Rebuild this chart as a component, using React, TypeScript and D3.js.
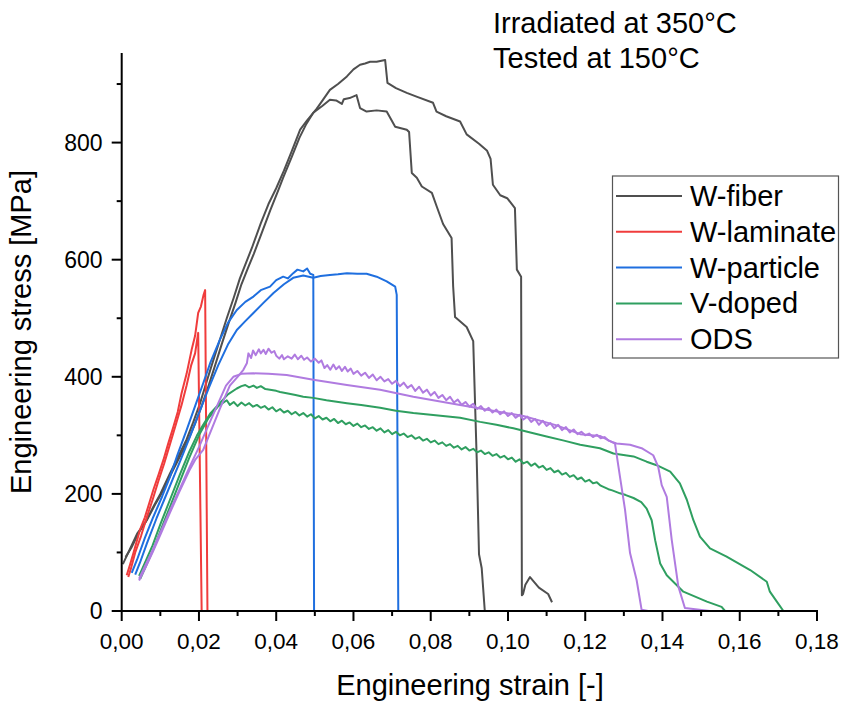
import React from 'react';
import * as d3 from 'd3';

type Pt = [number, number];

const seriesNames = ['W-fiber', 'W-laminate', 'W-particle', 'V-doped', 'ODS'];
const xMajorTicks = [0, 0.02, 0.04, 0.06, 0.08, 0.1, 0.12, 0.14, 0.16, 0.18];
const xMinorTicks = [0.01, 0.03, 0.05, 0.07, 0.09, 0.11, 0.13, 0.15, 0.17];
const yMajorTicks = [0, 200, 400, 600, 800];
const yMinorTicks = [100, 300, 500, 700, 900];
const annotationLines = ['Irradiated at 350°C', 'Tested at 150°C'];

const wFiberA: Pt[] = [
  [0.0003, 80], [0.002, 104], [0.004, 132], [0.006, 150], [0.0082, 178], [0.010, 200], [0.0125, 235], [0.0145, 262],
  [0.0168, 293], [0.0185, 322], [0.0203, 355], [0.022, 392], [0.0237, 428], [0.0255, 465], [0.0272, 500], [0.029, 535],
  [0.0306, 568], [0.0322, 595], [0.0337, 620], [0.036, 662], [0.038, 695], [0.040, 722], [0.042, 752], [0.044, 785],
  [0.0462, 822], [0.048, 838], [0.0505, 858], [0.052, 872], [0.0539, 890], [0.056, 900], [0.0583, 913], [0.060, 925],
  [0.0617, 933], [0.063, 935], [0.0643, 938], [0.066, 938], [0.0682, 941], [0.0688, 902], [0.071, 893], [0.0738, 885],
  [0.0765, 878], [0.0806, 868], [0.0815, 853], [0.084, 845], [0.0876, 836], [0.0893, 814], [0.0925, 798], [0.0946, 786],
  [0.0955, 772], [0.0961, 728], [0.098, 710], [0.0998, 705], [0.1018, 688], [0.1023, 583], [0.1034, 571], [0.1036, 27],
  [0.1039, 29], [0.1045, 45], [0.1057, 58], [0.108, 40], [0.1104, 29], [0.1114, 15],
];
const wFiberB: Pt[] = [
  [0.001, 92], [0.0025, 108], [0.0045, 135], [0.0065, 155], [0.0085, 180], [0.0105, 203], [0.013, 237], [0.015, 263],
  [0.0172, 292], [0.019, 320], [0.0207, 350], [0.0225, 385], [0.0242, 420], [0.026, 458], [0.0277, 492], [0.0295, 527],
  [0.031, 558], [0.0327, 586], [0.0342, 610], [0.0365, 650], [0.0385, 685], [0.0405, 718], [0.0418, 740], [0.044, 775],
  [0.046, 808], [0.0478, 832], [0.0496, 851], [0.052, 863], [0.0539, 873], [0.0555, 872], [0.057, 866], [0.0575, 874],
  [0.059, 876], [0.0608, 881], [0.0617, 859], [0.0634, 853], [0.066, 855], [0.0686, 853], [0.0708, 827], [0.0738, 822],
  [0.0744, 818], [0.0751, 748], [0.0764, 740], [0.0777, 725], [0.0803, 714], [0.0816, 690], [0.0832, 661], [0.0854, 637],
  [0.0858, 555], [0.0863, 502], [0.0893, 485], [0.091, 461], [0.0919, 261], [0.0925, 97], [0.0932, 73], [0.094, 0],
  [0.0955, 0],
];
const wLaminateA: Pt[] = [
  [0.0013, 61], [0.0022, 80], [0.003, 98], [0.0047, 138], [0.006, 160], [0.0082, 207], [0.0095, 232], [0.0108, 258],
  [0.012, 285], [0.0134, 315], [0.0145, 340], [0.0155, 372], [0.0168, 405], [0.0181, 446], [0.019, 470], [0.0198, 509],
  [0.0205, 520], [0.0212, 540], [0.0216, 548], [0.0222, 0],
];
const wLaminateB: Pt[] = [
  [0.0017, 58], [0.0025, 75], [0.0035, 100], [0.005, 128], [0.0065, 160], [0.008, 190], [0.0095, 222], [0.011, 252],
  [0.0125, 285], [0.014, 318], [0.0155, 352], [0.0168, 385], [0.018, 420], [0.019, 440], [0.0198, 475], [0.0207, 0],
];
const wParticleA: Pt[] = [
  [0.0026, 65], [0.004, 88], [0.006, 125], [0.0082, 161], [0.0105, 196], [0.0125, 229], [0.0145, 268], [0.0168, 309],
  [0.019, 350], [0.0211, 389], [0.023, 425], [0.0254, 463], [0.0275, 492], [0.0298, 514], [0.032, 528], [0.0341, 537],
  [0.036, 548], [0.0384, 554], [0.040, 565], [0.0418, 571], [0.043, 568], [0.0444, 577], [0.0455, 583], [0.047, 580],
  [0.048, 585], [0.0488, 576], [0.0496, 574], [0.0498, 0],
];
const wParticleB: Pt[] = [
  [0.0035, 62], [0.0047, 82], [0.0065, 115], [0.009, 158], [0.011, 190], [0.013, 222], [0.0155, 262], [0.0178, 300],
  [0.02, 338], [0.0225, 380], [0.025, 420], [0.0275, 455], [0.0298, 480], [0.032, 495], [0.0341, 509], [0.0365, 525],
  [0.0393, 543], [0.042, 558], [0.0444, 569], [0.047, 573], [0.0496, 569], [0.0515, 572], [0.0539, 574], [0.056, 575],
  [0.0583, 577], [0.061, 576], [0.0634, 576], [0.066, 571], [0.0686, 563], [0.0708, 554], [0.0712, 540], [0.0716, 0],
  [0.0803, 0],
];
const vDopedA: Pt[] = [
  [0.0045, 60], [0.006, 82], [0.008, 112], [0.010, 148], [0.0125, 190], [0.015, 232], [0.0175, 272], [0.0195, 300],
  [0.0211, 318], [0.023, 338], [0.0254, 355], [0.0275, 370], [0.0298, 380], [0.031, 384], [0.032, 386], [0.033, 382],
  [0.0341, 385], [0.035, 381], [0.036, 384], [0.0372, 379], [0.0384, 378], [0.040, 376], [0.041, 374], [0.0427, 372],
  [0.045, 369], [0.047, 366], [0.0496, 364], [0.053, 360], [0.0583, 355], [0.062, 352], [0.0669, 347], [0.071, 342],
  [0.0755, 338], [0.080, 335], [0.0876, 330], [0.0928, 323], [0.097, 318], [0.1014, 312], [0.105, 306], [0.11, 298],
  [0.1145, 291], [0.1187, 284], [0.1238, 278], [0.1273, 269], [0.1325, 264], [0.1359, 255], [0.1385, 249], [0.142, 238],
  [0.1445, 218], [0.1463, 190], [0.148, 155], [0.1497, 127], [0.1523, 107], [0.1566, 93], [0.1627, 70], [0.167, 50],
  [0.1678, 33], [0.1696, 16], [0.1713, 0], [0.1769, 0],
];
const vDopedB: Pt[] = [
  [0.0048, 55], [0.0065, 80], [0.0085, 110], [0.0105, 145], [0.0125, 178], [0.015, 220], [0.0175, 262], [0.02, 300],
  [0.0225, 330], [0.025, 350], [0.0272, 360], [0.028, 352], [0.029, 357], [0.030, 350], [0.031, 356], [0.032, 351],
  [0.033, 355], [0.034, 349], [0.035, 352], [0.036, 347], [0.037, 350], [0.038, 344], [0.039, 348], [0.040, 341],
  [0.041, 345], [0.042, 339], [0.043, 342], [0.044, 336], [0.045, 340], [0.046, 334], [0.047, 338], [0.048, 332],
  [0.049, 336], [0.050, 329], [0.051, 333], [0.052, 327], [0.053, 330], [0.054, 324], [0.055, 328], [0.056, 321],
  [0.057, 325], [0.058, 319], [0.059, 322], [0.060, 316], [0.061, 320], [0.062, 314], [0.063, 317], [0.064, 311],
  [0.065, 314], [0.066, 308], [0.067, 312], [0.068, 305], [0.069, 309], [0.070, 302], [0.071, 306], [0.072, 300],
  [0.073, 303], [0.074, 297], [0.075, 300], [0.076, 294], [0.077, 297], [0.078, 291], [0.079, 294], [0.080, 288],
  [0.081, 291], [0.082, 285], [0.083, 288], [0.084, 282], [0.085, 285], [0.086, 279], [0.087, 282], [0.088, 276],
  [0.089, 280], [0.090, 274], [0.091, 277], [0.092, 271], [0.093, 274], [0.094, 268], [0.095, 271], [0.096, 265],
  [0.097, 268], [0.098, 262], [0.099, 265], [0.100, 259], [0.101, 262], [0.102, 255], [0.103, 259], [0.104, 252],
  [0.105, 255], [0.106, 248], [0.107, 252], [0.108, 245], [0.109, 248], [0.110, 241], [0.111, 244], [0.112, 237],
  [0.113, 240], [0.114, 233], [0.115, 236], [0.116, 229], [0.117, 232], [0.118, 225], [0.119, 228], [0.120, 221],
  [0.121, 224], [0.122, 218], [0.123, 220], [0.124, 214], [0.126, 208], [0.127, 206], [0.129, 201], [0.1305, 198],
  [0.1325, 193], [0.1345, 186], [0.1359, 175], [0.1372, 155], [0.1381, 121], [0.1394, 81], [0.1411, 61], [0.1454, 33],
  [0.1515, 16], [0.1553, 7], [0.1562, 0],
];
const odsA: Pt[] = [
  [0.0045, 52], [0.006, 72], [0.008, 100], [0.010, 130], [0.0125, 168], [0.015, 205], [0.0175, 240], [0.019, 258],
  [0.0211, 275], [0.0225, 298], [0.0254, 345], [0.028, 385], [0.030, 400], [0.0315, 412], [0.0324, 423], [0.0328, 440],
  [0.0335, 432], [0.034, 445], [0.0347, 437], [0.0355, 447], [0.036, 440], [0.0367, 446], [0.0373, 439], [0.038, 448],
  [0.0388, 441], [0.0395, 444], [0.040, 436], [0.0408, 431], [0.0415, 437], [0.042, 430], [0.043, 435], [0.044, 431],
  [0.0448, 438], [0.0456, 430], [0.0465, 436], [0.0472, 429], [0.048, 433], [0.049, 426], [0.05, 431], [0.051, 424],
  [0.0517, 428], [0.0525, 415], [0.0532, 420], [0.054, 412], [0.0548, 421], [0.0555, 413], [0.0563, 418], [0.057, 410],
  [0.0578, 417], [0.0585, 409], [0.0593, 414], [0.06, 405], [0.061, 410], [0.062, 402], [0.063, 407], [0.064, 398],
  [0.065, 404], [0.066, 394], [0.067, 400], [0.068, 392], [0.069, 396], [0.070, 388], [0.071, 393], [0.072, 384],
  [0.073, 390], [0.074, 381], [0.075, 386], [0.076, 376], [0.077, 383], [0.078, 373], [0.079, 378], [0.080, 368],
  [0.081, 374], [0.082, 364], [0.083, 369], [0.084, 360], [0.085, 366], [0.086, 356], [0.087, 361], [0.088, 352],
  [0.089, 357], [0.090, 349], [0.091, 354], [0.092, 345], [0.093, 350], [0.094, 342], [0.095, 347], [0.096, 339],
  [0.097, 344], [0.098, 336], [0.099, 341], [0.100, 333], [0.101, 338], [0.102, 330], [0.103, 335], [0.104, 327],
  [0.105, 332], [0.106, 323], [0.107, 328], [0.108, 318], [0.109, 325], [0.110, 316], [0.111, 321], [0.112, 312],
  [0.113, 318], [0.114, 309], [0.115, 314], [0.116, 305], [0.117, 310], [0.118, 302], [0.119, 306], [0.12, 300],
  [0.121, 303], [0.122, 297], [0.123, 301], [0.124, 295], [0.125, 297], [0.126, 291], [0.1281, 286], [0.1316, 284],
  [0.1346, 278], [0.1376, 266], [0.1389, 246], [0.1398, 215], [0.1411, 195], [0.1424, 121], [0.1441, 42], [0.1458, 5],
  [0.1523, 0],
];
const odsB: Pt[] = [
  [0.0045, 55], [0.006, 76], [0.008, 104], [0.010, 134], [0.0125, 172], [0.015, 208], [0.0175, 245], [0.02, 280],
  [0.0225, 318], [0.025, 355], [0.027, 385], [0.0289, 400], [0.031, 405], [0.0341, 406], [0.038, 405], [0.0427, 403],
  [0.0496, 395], [0.0583, 386], [0.0669, 378], [0.0755, 366], [0.0876, 352], [0.0928, 346], [0.104, 333], [0.1126, 317],
  [0.1187, 302], [0.1238, 299], [0.1277, 286], [0.129, 229], [0.1303, 173], [0.1316, 99], [0.1333, 53], [0.1346, 2],
  [0.1363, 0],
];

const seriesColors = ['#4f4f4f', '#f03c3c', '#1f6fdf', '#2f9f60', '#b07be0'];
const seriesCurves: Pt[][][] = [
  [wFiberA, wFiberB],
  [wLaminateA, wLaminateB],
  [wParticleA, wParticleB],
  [vDopedA, vDopedB],
  [odsA, odsB],
];

const W = 843;
const H = 705;
const X0 = 121.7;
const X1 = 817;
const Y0 = 611;
const Y1 = 53;
const FONT = 'Arial, "Liberation Sans", sans-serif';
const BIG = 29;

export default function App() {
  const x = d3.scaleLinear().domain([0, 0.18]).range([X0, X1]);
  const y = d3.scaleLinear().domain([0, 953]).range([Y0, Y1]);
  const line = d3
    .line<Pt>()
    .x((d) => x(d[0]))
    .y((d) => y(d[1]));
  const fmt = (v: number) => d3.format('.2f')(v).replace('.', ',');

  const legendX = 612.5;
  const legendY = 176;
  const legendW = 226;
  const legendH = 182;
  const rowY = (i: number) => 196 + i * 35.8;

  return (
    <svg
      width={W}
      height={H}
      style={{ position: 'absolute', left: 0, top: 0, background: '#fff' }}
      fontFamily={FONT}
    >
      <rect x={0} y={0} width={W} height={H} fill="#fff" />
      {seriesCurves.map((curves, si) =>
        curves.map((c, ci) => (
          <path
            key={`${si}-${ci}`}
            d={line(c) || ''}
            fill="none"
            stroke={seriesColors[si]}
            strokeWidth={2}
            strokeLinejoin="round"
          />
        ))
      )}
      <line x1={X0} x2={X1 + 1} y1={Y0} y2={Y0} stroke="#000" strokeWidth={2} />
      <line x1={X0} x2={X0} y1={Y1} y2={Y0 + 1} stroke="#000" strokeWidth={2} />
      {xMajorTicks.map((t) => (
        <g key={`xt${t}`}>
          <line x1={x(t)} x2={x(t)} y1={Y0} y2={Y0 + 10} stroke="#000" strokeWidth={2} />
          <text x={x(t)} y={649} textAnchor="middle" fontSize={22.5} fill="#000">
            {fmt(t)}
          </text>
        </g>
      ))}
      {xMinorTicks.map((t) => (
        <line key={`xm${t}`} x1={x(t)} x2={x(t)} y1={Y0} y2={Y0 + 5} stroke="#000" strokeWidth={2} />
      ))}
      {yMajorTicks.map((t) => (
        <g key={`yt${t}`}>
          <line x1={X0 - 10} x2={X0} y1={y(t)} y2={y(t)} stroke="#000" strokeWidth={2} />
          <text x={102.5} y={y(t) + 8} textAnchor="end" fontSize={23} fill="#000">
            {t}
          </text>
        </g>
      ))}
      {yMinorTicks.map((t) => (
        <line key={`ym${t}`} x1={X0 - 5} x2={X0} y1={y(t)} y2={y(t)} stroke="#000" strokeWidth={2} />
      ))}
      <text x={470} y={695} textAnchor="middle" fontSize={BIG} fill="#000">
        Engineering strain [-]
      </text>
      <text transform={`translate(31, 332) rotate(-90)`} textAnchor="middle" fontSize={BIG} fill="#000">
        Engineering stress [MPa]
      </text>
      {annotationLines.map((s, i) => (
        <text key={s} x={493} y={33 + i * 35} fontSize={BIG} fill="#000">
          {s}
        </text>
      ))}
      <rect x={legendX} y={legendY} width={legendW} height={legendH} fill="#fff" stroke="#555" strokeWidth={1.2} />
      {seriesNames.map((n, i) => (
        <g key={n}>
          <line x1={616} x2={682} y1={rowY(i)} y2={rowY(i)} stroke={seriesColors[i]} strokeWidth={2} />
          <text x={690} y={rowY(i) + 10} fontSize={BIG} fill="#000">
            {n}
          </text>
        </g>
      ))}
    </svg>
  );
}
